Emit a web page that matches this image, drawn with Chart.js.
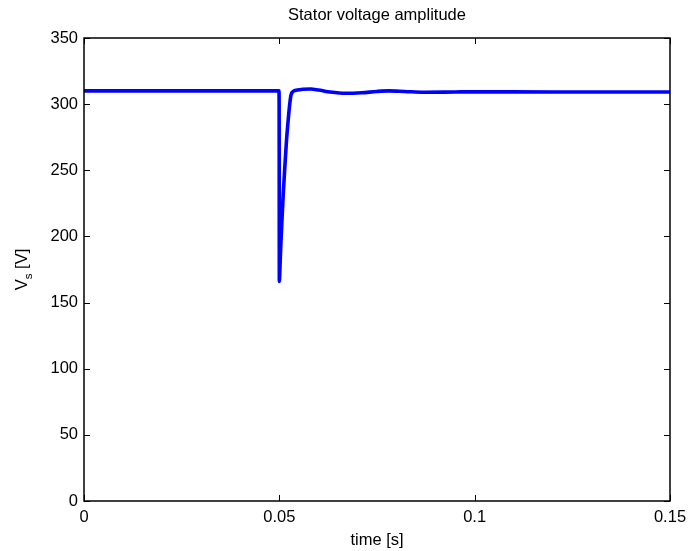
<!DOCTYPE html>
<html>
<head>
<meta charset="utf-8">
<script src="https://cdn.jsdelivr.net/npm/chart.js@4"></script>
<style>
html,body{margin:0;padding:0;background:#fff;}
#wrap{width:691px;height:551px;position:relative;}
</style>
</head>
<body>
<div id="wrap"><canvas id="c" width="691" height="551"></canvas></div>
<script>
const chartTitle = "Stator voltage amplitude";
const xAxisLabel = "time [s]";
const yAxisMain = "V";
const yAxisSub = "s";
const yAxisRest = " [V]";
const xTicks = [0, 0.05, 0.1, 0.15];
const yTicks = [0, 50, 100, 150, 200, 250, 300, 350];
const timeS = [0, 0.0499, 0.04995, 0.0500, 0.0502, 0.0504, 0.0507, 0.0510, 0.0514, 0.0518, 0.0523, 0.0527, 0.0530, 0.0535, 0.0540, 0.0560, 0.0580, 0.0600, 0.0630, 0.0670, 0.0710, 0.0750, 0.0780, 0.0820, 0.0870, 0.0950, 0.1000, 0.1200, 0.1500];
const voltage = [310, 310, 300, 166, 180, 195, 214, 232, 252, 271, 289, 301, 307, 309.5, 310.3, 311.2, 311.4, 310.7, 309.2, 308.2, 308.6, 309.6, 310.0, 309.6, 309.0, 309.2, 309.3, 309.2, 309.2];

const FONT = "'Liberation Sans', Arial, Helvetica, sans-serif";
const FS = 16.5;

const points = timeS.map((t, i) => ({x: t, y: voltage[i]}));

const inwardTicks = {
  id: 'inwardTicks',
  afterDraw(chart) {
    const ctx = chart.ctx;
    const a = chart.chartArea;
    const xs = chart.scales.x, ys = chart.scales.y;
    ctx.save();
    ctx.strokeStyle = '#000';
    ctx.lineWidth = 1;
    const L = 6;
    ctx.beginPath();
    xTicks.forEach(v => {
      const px = Math.round(xs.getPixelForValue(v)) + 0.5;
      ctx.moveTo(px, a.bottom); ctx.lineTo(px, a.bottom - L);
      ctx.moveTo(px, a.top); ctx.lineTo(px, a.top + L);
    });
    yTicks.forEach(v => {
      const py = Math.round(ys.getPixelForValue(v)) + 0.5;
      ctx.moveTo(a.left, py); ctx.lineTo(a.left + L, py);
      ctx.moveTo(a.right, py); ctx.lineTo(a.right - L, py);
    });
    ctx.stroke();
    ctx.lineWidth = 1.5;
    ctx.strokeRect(a.left, a.top, a.right - a.left, a.bottom - a.top);
    // title
    ctx.fillStyle = '#000';
    ctx.font = FS + 'px ' + FONT;
    ctx.textAlign = 'center';
    ctx.textBaseline = 'alphabetic';
    ctx.fillText(chartTitle, (a.left + a.right) / 2, 20);
    // x axis label
    ctx.fillText(xAxisLabel, (a.left + a.right) / 2, 545);
    // y axis label with subscript
    ctx.translate(27, (a.top + a.bottom) / 2);
    ctx.rotate(-Math.PI / 2);
    ctx.font = FS + 'px ' + FONT;
    const wV = ctx.measureText(yAxisMain).width;
    ctx.font = (FS * 0.7) + 'px ' + FONT;
    const wS = ctx.measureText(yAxisSub).width;
    ctx.font = FS + 'px ' + FONT;
    const wR = ctx.measureText(yAxisRest).width;
    let x0 = -(wV + wS + wR) / 2;
    ctx.textAlign = 'left';
    ctx.fillText(yAxisMain, x0, 0);
    ctx.font = (FS * 0.7) + 'px ' + FONT;
    ctx.fillText(yAxisSub, x0 + wV, 5);
    ctx.font = FS + 'px ' + FONT;
    ctx.fillText(yAxisRest, x0 + wV + wS, 0);
    ctx.restore();
  }
};

new Chart(document.getElementById('c'), {
  type: 'line',
  data: {
    datasets: [{
      data: points,
      borderColor: '#0000ff',
      backgroundColor: '#0000ff',
      borderWidth: 3.6,
      borderJoinStyle: 'round',
      borderCapStyle: 'round',
      cubicInterpolationMode: 'monotone',
      pointRadius: 0,
      fill: false
    }]
  },
  options: {
    responsive: false,
    animation: false,
    layout: {padding: {top: 38, right: 21, left: 0, bottom: 0}},
    plugins: {legend: {display: false}, title: {display: false}, tooltip: {enabled: false}},
    scales: {
      x: {
        type: 'linear', min: 0, max: 0.15,
        afterBuildTicks: s => { s.ticks = xTicks.map(v => ({value: v})); },
        afterFit: s => { s.height = 50; s.paddingLeft = 0; s.paddingRight = 0; },
        grid: {display: false, drawTicks: false},
        border: {display: false},
        ticks: {
          color: '#000', font: {family: FONT, size: FS}, padding: 7, maxRotation: 0,
          callback: v => String(v)
        }
      },
      y: {
        type: 'linear', min: 0, max: 350,
        afterBuildTicks: s => { s.ticks = yTicks.map(v => ({value: v})); },
        afterFit: s => { s.width = 84; s.paddingTop = 0; s.paddingBottom = 0; },
        grid: {display: false, drawTicks: false},
        border: {display: false},
        ticks: {color: '#000', font: {family: FONT, size: FS}, padding: 6}
      }
    }
  },
  plugins: [inwardTicks]
});
</script>
</body>
</html>
